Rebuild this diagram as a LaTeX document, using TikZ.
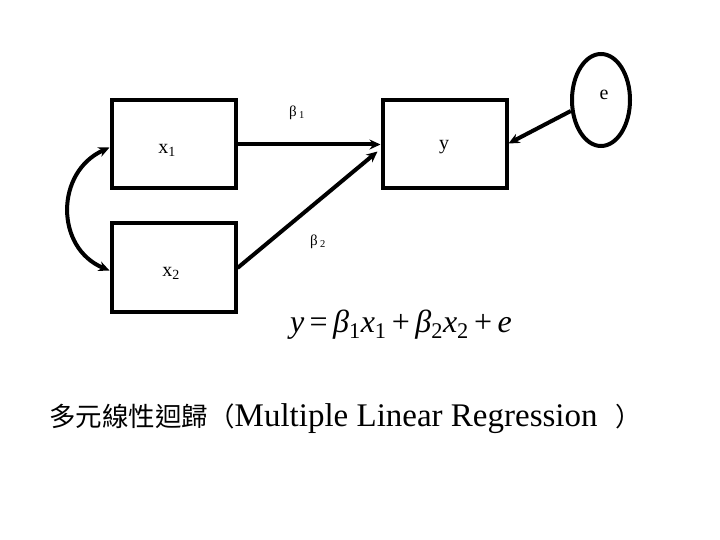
\documentclass[tikz,border=0pt]{standalone}
\usepackage{fontspec}
\setmainfont{Liberation Serif}
\newfontfamily\cjk{Noto Sans CJK TC}
\usetikzlibrary{arrows.meta,shapes.geometric}
\begin{document}
\begin{tikzpicture}[x=1pt,y=-1pt,
  box/.style={draw,line width=4pt,minimum width=124pt,minimum height=88pt,inner sep=0pt},
  tip/.tip={Stealth[length=11pt,width=10pt]},
  conn/.style={line width=4pt,-tip},
  lab/.style={inner sep=0pt,font=\fontsize{20}{20}\selectfont},
  blab/.style={inner sep=0pt,font=\fontsize{15}{15}\selectfont}]
\useasboundingbox (0,0) rectangle (720,540);
\node[box] (x1) at (173.5,144.5) {};
\node[box] (x2) at (173.5,267.5) {};
\node[box] (y) at (444.5,144.5) {};
\node[draw,line width=4pt,ellipse,minimum width=58pt,minimum height=92pt,inner sep=0pt] (e) at (601,100) {};
\node[lab] (tx1) at (167,150) {x\textsubscript{1}};
\node[lab] (tx2) at (171,273) {x\textsubscript{2}};
\node[lab] (ty) at (444,147) {y};
\node[lab] (te) at (604,95) {e};
\node[blab] (b1) at (297,113) {β\,\textsubscript{1}};
\node[blab] (b2) at (318,242) {β\,\textsubscript{2}};
\draw[conn] (x1.east) -- (y.west);
\draw[conn] (x2.east |- 0,268) -- ([xshift=-3pt,yshift=-7pt]y.west);
\draw[conn] (e.200) -- ([yshift=1pt]y.east);
\draw[line width=4pt,tip-tip] ([yshift=-3pt]x1.west) .. controls (55,172) and (55,248) .. ([yshift=-3pt]x2.west);
\node[inner sep=0pt,anchor=base,font=\fontsize{32}{32}\selectfont] (eq) at (401,332) {\textit{y}\,=\,\textit{β}\textsubscript{1}\textit{x}\textsubscript{1}\,+\,\textit{β}\textsubscript{2}\textit{x}\textsubscript{2}\,+\,\textit{e}};
\node[inner sep=0pt,anchor=base west] (cap) at (49,426) {{\cjk\fontsize{26.5}{26}\selectfont 多元線性迴歸（}{\fontsize{33}{33}\selectfont Multiple Linear Regression}\hspace{18pt}{\cjk\fontsize{26}{26}\selectfont ）}};
\end{tikzpicture}
\end{document}
